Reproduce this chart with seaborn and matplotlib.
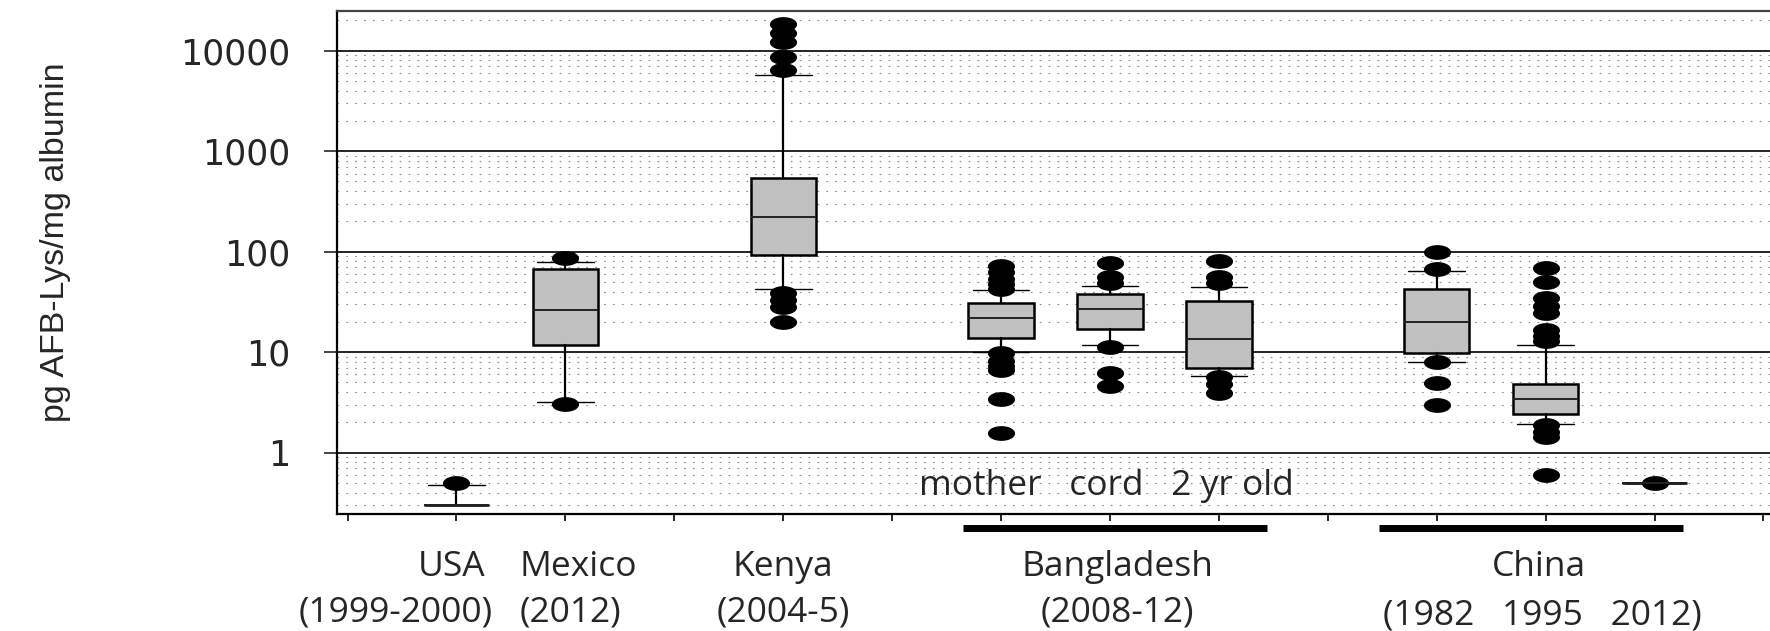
import matplotlib

matplotlib.use("Agg")
import matplotlib.pyplot as plt
import numpy as np
import seaborn as sns
from matplotlib.ticker import LogLocator, NullFormatter

# =========================
# DATA (pg AFB-Lys/mg albumin)
# =========================
groups = ["USA", "Mexico", "Kenya", "mother", "cord", "2 yr old",
          "China 1982", "China 1995", "China 2012"]
slots = [1, 2, 4, 6, 7, 8, 10, 11, 12]
medians = [0.30, 26.4, 224, 22.0, 26.9, 13.6, 19.8, 3.44, 0.50]
q1 = [0.30, 11.9, 93.4, 13.7, 17.1, 7.0, 9.75, 2.43, 0.50]
q3 = [0.30, 67.6, 537, 31.1, 38.2, 32.5, 42.3, 4.79, 0.50]
whisker_low = [0.30, 3.22, 42.3, 10.1, 11.9, 5.84, 7.98, 1.92, 0.50]
whisker_high = [0.478, 79.6, 5730, 41.3, 45.9, 44.9, 64.7, 11.8, 0.50]
outliers = [
    [0.50],
    [86.5, 3.02],
    [18450, 15000, 12290, 8720, 6430, 38.8, 33.2, 28.4, 20.0],
    [72.6, 62.4, 53.5, 47.4, 42.8, 9.8, 8.2, 7.3, 6.7, 3.40, 1.56],
    [76.8, 56.4, 49.2, 11.2, 6.2, 4.6],
    [81.3, 56.4, 48.5, 5.7, 4.8, 3.9],
    [99.4, 67.3, 8.0, 4.98, 2.99],
    [68.4, 49.7, 34.4, 28.8, 24.7, 16.6, 14.5, 13.0, 1.9, 1.62, 1.44, 0.60],
    [0.50],
]

ytick_values = [1, 10, 100, 1000, 10000]
ytick_labels = ["1", "10", "100", "1000", "10000"]

site_names = ["USA", "Mexico", "Kenya", "Bangladesh", "China"]
site_name_x = [0.954, 1.583, 4.0, 7.07, 10.94]
site_name_ha = ["center", "left", "center", "center", "center"]
site_years = ["(1999-2000)", "(2012)", "(2004-5)", "(2008-12)", "(1982   1995   2012)"]
site_year_x = [0.445, 1.583, 4.0, 7.07, 10.97]
site_year_ha = ["center", "left", "center", "center", "center"]
subgroup_text = "mother   cord   2 yr old"
group_bars = [(5.65, 8.44), (9.47, 12.26)]

# =========================
# STYLE
# =========================
sns.set_style("white")
plt.rcParams["font.family"] = ["DejaVu Sans"]

LABEL_FONT = ["Open Sans", "DejaVu Sans"]
NARROW_FONT = ["Liberation Sans Narrow", "Liberation Sans", "DejaVu Sans"]

theta = np.linspace(0, 2 * np.pi, 48)
ellipse = list(zip(np.cos(theta), 0.52 * np.sin(theta)))

fig = plt.figure(figsize=(17.7, 6.31), dpi=100)
ax = fig.add_axes([0.1902, 0.1856, 0.8098, 0.7964])

stats = []
for i, name in enumerate(groups):
    stats.append({
        "label": name,
        "med": medians[i],
        "q1": q1[i],
        "q3": q3[i],
        "whislo": whisker_low[i],
        "whishi": whisker_high[i],
        "fliers": np.array(outliers[i]),
    })

ax.bxp(
    stats,
    positions=slots,
    widths=0.6,
    capwidths=0.52,
    patch_artist=True,
    boxprops=dict(facecolor="#c0c0c0", edgecolor="black", linewidth=1.8),
    medianprops=dict(color="#222222", linewidth=1.4),
    whiskerprops=dict(color="black", linewidth=1.6),
    capprops=dict(color="black", linewidth=1.0),
    flierprops=dict(marker=ellipse, markerfacecolor="black",
                    markeredgecolor="black", markersize=18.5, linestyle="none"),
    manage_ticks=False,
)

ax.set_yscale("log")
ax.set_ylim(0.246, 24660)
ax.set_xlim(-0.1, 13.06)
ax.set_yticks(ytick_values, labels=ytick_labels)
ax.yaxis.set_minor_locator(LogLocator(base=10, subs=np.arange(2, 10), numticks=20))
ax.yaxis.set_minor_formatter(NullFormatter())
ax.set_xticks(range(14))
ax.set_xticklabels([])

ax.set_axisbelow(True)
ax.grid(True, which="major", axis="y", color="black", linewidth=1.2)
ax.grid(True, which="minor", axis="y", color="#8a8a8a", linewidth=0.8,
        linestyle=(0, (1.5, 6.5)))
ax.grid(False, axis="x")

for side in ["left", "bottom"]:
    ax.spines[side].set_color("black")
    ax.spines[side].set_linewidth(1.6)
ax.spines["top"].set_color("#444444")
ax.spines["top"].set_linewidth(1.6)
ax.spines["right"].set_visible(False)

ax.tick_params(axis="y", which="major", length=9.6, width=1.2, pad=24,
               labelsize=25, left=True)
ax.tick_params(axis="y", which="minor", length=0)
ax.tick_params(axis="x", length=5, width=1.4, bottom=True)

ax.set_ylabel("pg AFB-Lys/mg albumin", fontsize=24.5, family=NARROW_FONT, va="center")
ax.yaxis.set_label_coords(-0.1962, 0.54)

xtrans = ax.get_xaxis_transform()
ax.text(6.97, 0.055, subgroup_text, transform=xtrans, ha="center", va="center",
        fontsize=25.5, family=LABEL_FONT)
for name, x, ha in zip(site_names, site_name_x, site_name_ha):
    ax.text(x, -0.106, name, transform=xtrans, ha=ha, va="center",
            fontsize=25.5, family=LABEL_FONT, clip_on=False)
for i, (yr, x, ha) in enumerate(zip(site_years, site_year_x, site_year_ha)):
    y = -0.203 if i == len(site_years) - 1 else -0.196
    ax.text(x, y, yr, transform=xtrans, ha=ha, va="center",
            fontsize=25.5, family=LABEL_FONT, clip_on=False)
for x0, x1 in group_bars:
    ax.plot([x0, x1], [-0.0289, -0.0289], transform=xtrans, color="black",
            linewidth=5, solid_capstyle="butt", clip_on=False)

fig.savefig("out.png", dpi=100)
